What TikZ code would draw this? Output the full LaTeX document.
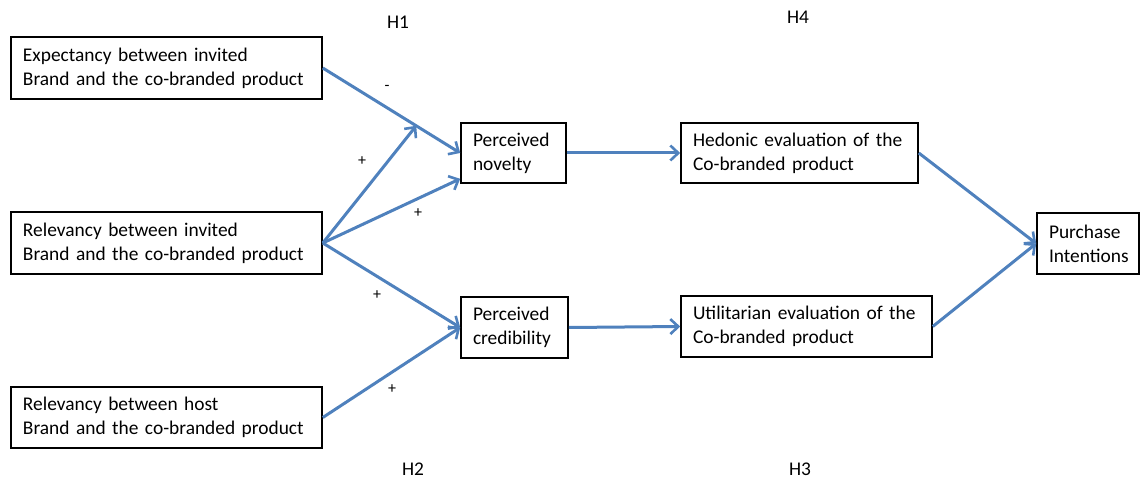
\documentclass[tikz,border=0pt]{standalone}
\usepackage{fontspec}
\setmainfont{Carlito}
\usetikzlibrary{arrows.meta}
\definecolor{linkblue}{RGB}{79,129,189}

\begin{document}
\begin{tikzpicture}[x=1pt,y=-1pt,
  box/.style={draw,line width=1.6pt,align=left,inner xsep=12pt,inner ysep=0pt,
    font=\fontsize{19.4}{24}\selectfont},
  link/.style={draw=linkblue,line width=3pt,
    -{Straight Barb[length=8pt,width=15pt,line width=2.6pt]}},
  sign/.style={font=\fontsize{16}{16}\selectfont},
  hyp/.style={font=\fontsize{19.4}{19}\selectfont}]
  \useasboundingbox (0,0) rectangle (1141,484);
  % antecedents
  \node[box,text width=287pt,minimum height=62pt] (expect) at (166.5,68)
    {Expectancy between invited\\Brand and the co-branded product};
  \node[box,text width=287pt,minimum height=62pt] (relinv) at (166.5,243)
    {Relevancy between invited\\Brand and the co-branded product};
  \node[box,text width=287pt,minimum height=61pt] (relhost) at (166.5,417.5)
    {Relevancy between host\\Brand and the co-branded product};
  % mediators
  \node[box,text width=81pt,minimum height=60pt] (novelty) at (513.5,153)
    {Perceived\\novelty};
  \node[box,text width=83pt,minimum height=61pt] (cred) at (514.5,327.5)
    {Perceived\\credibility};
  \node[box,text width=213pt,minimum height=60pt] (hedonic) at (799.5,153)
    {Hedonic evaluation of the\\Co-branded product};
  \node[box,text width=227pt,minimum height=61pt] (util) at (806.5,326.5)
    {Utilitarian evaluation of the\\Co-branded product};
  \node[box,text width=78pt,minimum height=61pt] (purchase) at (1088,243.5)
    {Purchase\\Intentions};
  % links
  \draw[link] (expect.east) -- coordinate[pos=.68] (mod) (novelty.west);
  \draw[link] (relinv.east) -- (mod);
  \draw[link] (relinv.east) -- ([yshift=5pt]novelty.south west);
  \foreach \a/\b in {relinv/cred,relhost/cred,novelty/hedonic,cred/util,
    hedonic/purchase,util/purchase} {
    \draw[link] (\a.east) -- (\b.west);
  }
  % signs and hypotheses
  \node[sign] (s1) at (387,88) {-};
  \node[sign] (s2) at (362,161) {+};
  \node[sign] (s3) at (418,213) {+};
  \node[sign] (s4) at (377,295) {+};
  \node[sign] (s5) at (392,389) {+};
  \foreach \x/\y/\h in {398/22/H1,798/17/H4,413/469/H2,800/469/H3} {
    \node[hyp] (\h) at (\x,\y) {\h};
  }
\end{tikzpicture}
\end{document}
